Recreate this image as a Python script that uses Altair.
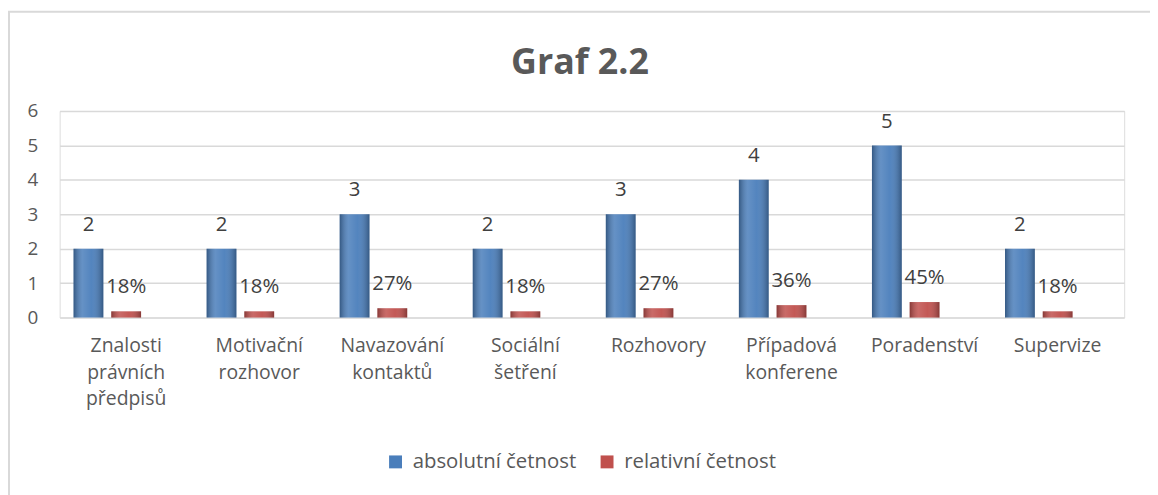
import altair as alt
import pandas as pd

categories = ["Znalosti\nprávních\npředpisů", "Motivační\nrozhovor", "Navazování\nkontaktů",
              "Sociální\nšetření", "Rozhovory", "Případová\nkonferene", "Poradenství", "Supervize"]
absolute = [2, 2, 3, 2, 3, 4, 5, 2]
relative = [0.18, 0.18, 0.27, 0.18, 0.27, 0.36, 0.45, 0.18]
series = ["absolutní četnost", "relativní četnost"]
title_text = "Graf 2.2"

rows = []
for c, a, r in zip(categories, absolute, relative):
    rows.append({"cat": c, "series": series[0], "value": a, "label": str(a)})
    rows.append({"cat": c, "series": series[1], "value": r, "label": f"{round(r*100)}%"})
df = pd.DataFrame(rows)

FONT = "Open Sans"
GREY = "#595959"

x = alt.X("cat:N", sort=categories, title=None,
          scale=alt.Scale(paddingInner=0.209, paddingOuter=0.1045),
          axis=alt.Axis(labelExpr="split(datum.label, '\\n')", labelAngle=0, ticks=False,
                        domain=False, labelPadding=19, labelFont=FONT, labelFontSize=19.5,
                        labelColor=GREY, labelLineHeight=27, labelBaseline="top", grid=False))
xo = alt.XOffset("series:N", scale=alt.Scale(domain=series + ["_"], paddingInner=0.21, paddingOuter=0))
y = alt.Y("value:Q", title=None,
          scale=alt.Scale(domain=[0, 6], nice=False),
          axis=alt.Axis(values=[0, 1, 2, 3, 4, 5, 6], ticks=False, domain=False, labelPadding=22,
                        labelFont=FONT, labelFontSize=19, labelColor=GREY,
                        gridColor="#d9d9d9", gridWidth=1.5))

base = alt.Chart(df)

bars = base.mark_bar().encode(
    x=x, xOffset=xo, y=y,
    color=alt.Color("series:N", scale=alt.Scale(domain=series, range=["#4a7ebb", "#c0504d"]),
                    legend=alt.Legend(title=None, orient="none", legendX=328, legendY=343,
                                      direction="horizontal", symbolType="square", symbolSize=169,
                                      symbolStrokeWidth=0, labelFont=FONT, labelFontSize=20.5,
                                      labelColor=GREY, labelOffset=7, columnPadding=20,
                                      labelLimit=400)),
)

shade = alt.LinearGradient(
    gradient="linear", x1=0, y1=0, x2=1, y2=0,
    stops=[alt.GradientStop(color="rgba(0,0,0,0.30)", offset=0),
           alt.GradientStop(color="rgba(255,255,255,0.15)", offset=0.3),
           alt.GradientStop(color="rgba(255,255,255,0.05)", offset=0.6),
           alt.GradientStop(color="rgba(0,0,0,0.30)", offset=1)])

shading = base.mark_bar(color=shade).encode(x=x, xOffset=xo, y=y)

labels = base.mark_text(dy=-24, font=FONT, fontSize=20.5, color="#404040", baseline="middle").encode(
    x=x, xOffset=xo, y=y, text="label:N")

border = alt.Chart(pd.DataFrame({"a": [0]})).mark_rect(fill=None, stroke="#d9d9d9", strokeWidth=2).encode(
    x=alt.value(-51), x2=alt.value(1300), y=alt.value(-100), y2=alt.value(600))

title = alt.Chart(pd.DataFrame({"t": [title_text]})).mark_text(
    font=FONT, fontSize=36, fontWeight="bold", color=GREY, baseline="alphabetic", align="center"
).encode(x=alt.value(524), y=alt.value(-37), text="t:N")

chart = alt.layer(border, bars, shading, labels, title).properties(
    width=1072, height=208,
    autosize=alt.AutoSizeParams(type="none"),
    padding={"left": 52, "top": 102, "right": 26, "bottom": 177},
).configure_view(stroke=None).configure(background="white")

chart.save("out.html", embed_options={"renderer": "svg", "actions": False})
